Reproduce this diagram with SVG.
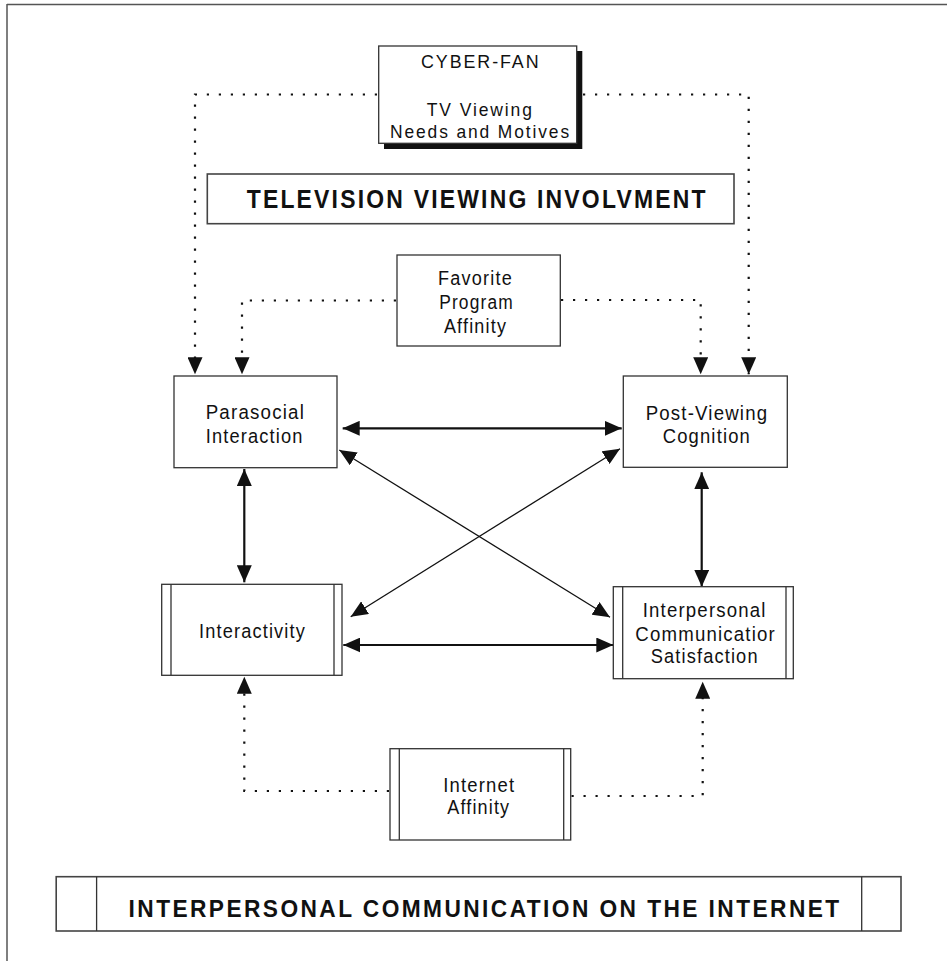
<svg xmlns="http://www.w3.org/2000/svg" width="947" height="961" viewBox="0 0 947 961">
<style>
.bx{fill:#fff;stroke:#333;stroke-width:1.3}
.in{stroke:#333;stroke-width:1.3;fill:none}
.t{font-family:"Liberation Sans",Arial,sans-serif;font-size:20.5px;letter-spacing:1.3px;fill:#111}
.tc{font-size:18.5px;letter-spacing:2px}
.tf{font-size:19.5px}
.tb{font-family:"Liberation Sans",Arial,sans-serif;font-weight:bold;fill:#111}
.dot{fill:none;stroke:#111;stroke-width:2.2;stroke-dasharray:2.2 9.8}
.sol{fill:none;stroke:#111;stroke-width:2.2}
.dia{fill:none;stroke:#111;stroke-width:1.3}
</style>
<defs>
<marker id="ah" markerUnits="userSpaceOnUse" markerWidth="18" markerHeight="15" viewBox="0 0 18 15" refX="17" refY="7.5" orient="auto-start-reverse">
<path d="M0,0 L17,7.5 L0,15 Z" fill="#111"/>
</marker>
</defs>
<rect width="947" height="961" fill="#fff"/>
<g id="frame">
<path d="M7,4.5 H947 M7,4 V961" fill="none" stroke="#555" stroke-width="1.5"/>
</g>
<g id="connectors">
<path class="dot" d="M377,94.5 H195 V374.3" marker-end="url(#ah)"/>
<path class="dot" d="M583,94.5 H748.7 V374.3" marker-end="url(#ah)"/>
<path class="dot" d="M396,300.5 H242 V374.3" marker-end="url(#ah)"/>
<path class="dot" d="M561,300 H700.7 V374.3" marker-end="url(#ah)"/>
<path class="dot" d="M389,791 H244.3 V676.7" marker-end="url(#ah)"/>
<path class="dot" d="M571.5,796 H702.7 V681.7" marker-end="url(#ah)"/>
<path class="sol" d="M342.7,428.3 H621.7" marker-start="url(#ah)" marker-end="url(#ah)"/>
<path class="sol" d="M343.3,645 H613.3" marker-start="url(#ah)" marker-end="url(#ah)"/>
<path class="sol" d="M244.3,469 V582.3" marker-start="url(#ah)" marker-end="url(#ah)"/>
<path class="sol" d="M701.7,472.3 V586.7" marker-start="url(#ah)" marker-end="url(#ah)"/>
<path class="dia" d="M339.3,450 L610,617.3" marker-start="url(#ah)" marker-end="url(#ah)"/>
<path class="dia" d="M620,448.7 L350.7,616.7" marker-start="url(#ah)" marker-end="url(#ah)"/>
</g>
<g id="cyberfan">
<rect x="384" y="51" width="198.3" height="98" fill="#111"/>
<rect class="bx" x="378.7" y="46" width="198" height="97.3"/>
<text class="t tc" x="421" y="67.7" textLength="119.5" lengthAdjust="spacingAndGlyphs">CYBER-FAN</text>
<text class="t tc" x="426.8" y="116" textLength="107" lengthAdjust="spacingAndGlyphs">TV Viewing</text>
<text class="t tc" x="390" y="138" textLength="181" lengthAdjust="spacingAndGlyphs">Needs and Motives</text>
</g>
<g id="tv-involvement">
<rect class="bx" x="207.3" y="174" width="526.7" height="49.7" style="stroke:#444;stroke-width:1.6"/>
<text class="tb" x="246.7" y="207.7" font-size="26" letter-spacing="2.5" textLength="461" lengthAdjust="spacingAndGlyphs">TELEVISION VIEWING INVOLVMENT</text>
</g>
<g id="favorite">
<rect class="bx" x="397" y="255" width="163.3" height="91"/>
<text class="t tf" x="438" y="285" textLength="75" lengthAdjust="spacingAndGlyphs">Favorite</text>
<text class="t tf" x="439.2" y="309.3" textLength="74.7" lengthAdjust="spacingAndGlyphs">Program</text>
<text class="t tf" x="443.9" y="333.3" textLength="63.3" lengthAdjust="spacingAndGlyphs">Affinity</text>
</g>
<g id="parasocial">
<rect class="bx" x="174" y="376" width="163" height="91.7"/>
<text class="t" x="205.7" y="419" textLength="99.3" lengthAdjust="spacingAndGlyphs">Parasocial</text>
<text class="t" x="205.7" y="442.7" textLength="98" lengthAdjust="spacingAndGlyphs">Interaction</text>
</g>
<g id="postviewing">
<rect class="bx" x="623.3" y="376" width="164" height="91.3"/>
<text class="t" x="645.7" y="420" textLength="122.6" lengthAdjust="spacingAndGlyphs">Post-Viewing</text>
<text class="t" x="662.7" y="442.7" textLength="88.3" lengthAdjust="spacingAndGlyphs">Cognition</text>
</g>
<g id="interactivity">
<rect class="bx" x="161.7" y="584.3" width="180.3" height="91"/>
<path class="in" d="M171,584.3 V675.3 M334,584.3 V675.3"/>
<text class="t" x="199" y="637.7" textLength="107" lengthAdjust="spacingAndGlyphs">Interactivity</text>
</g>
<g id="interpersonal">
<rect class="bx" x="613.3" y="586.7" width="180" height="92"/>
<path class="in" d="M622.7,586.7 V678.7 M786,586.7 V678.7"/>
<text class="t" x="642.7" y="617.3" textLength="124" lengthAdjust="spacingAndGlyphs">Interpersonal</text>
<text class="t" x="635.3" y="641" textLength="140.7" lengthAdjust="spacingAndGlyphs">Communicatior</text>
<text class="t" x="650.7" y="663.3" textLength="108" lengthAdjust="spacingAndGlyphs">Satisfaction</text>
</g>
<g id="internet">
<rect class="bx" x="390" y="748.7" width="180.7" height="91.3"/>
<path class="in" d="M399.3,748.7 V840 M563.7,748.7 V840"/>
<text class="t" x="443.3" y="792.3" textLength="72" lengthAdjust="spacingAndGlyphs">Internet</text>
<text class="t" x="447.3" y="814" textLength="63" lengthAdjust="spacingAndGlyphs">Affinity</text>
</g>
<g id="internet-communication">
<rect class="bx" x="56.2" y="876.7" width="844.8" height="54.3" style="stroke:#444;stroke-width:1.6"/>
<path class="in" d="M96.6,876.7 V931 M861.7,876.7 V931"/>
<text class="tb" x="128.6" y="917.3" font-size="23.5" letter-spacing="2.5" textLength="713" lengthAdjust="spacingAndGlyphs">INTERPERSONAL COMMUNICATION ON THE INTERNET</text>
</g>
</svg>
